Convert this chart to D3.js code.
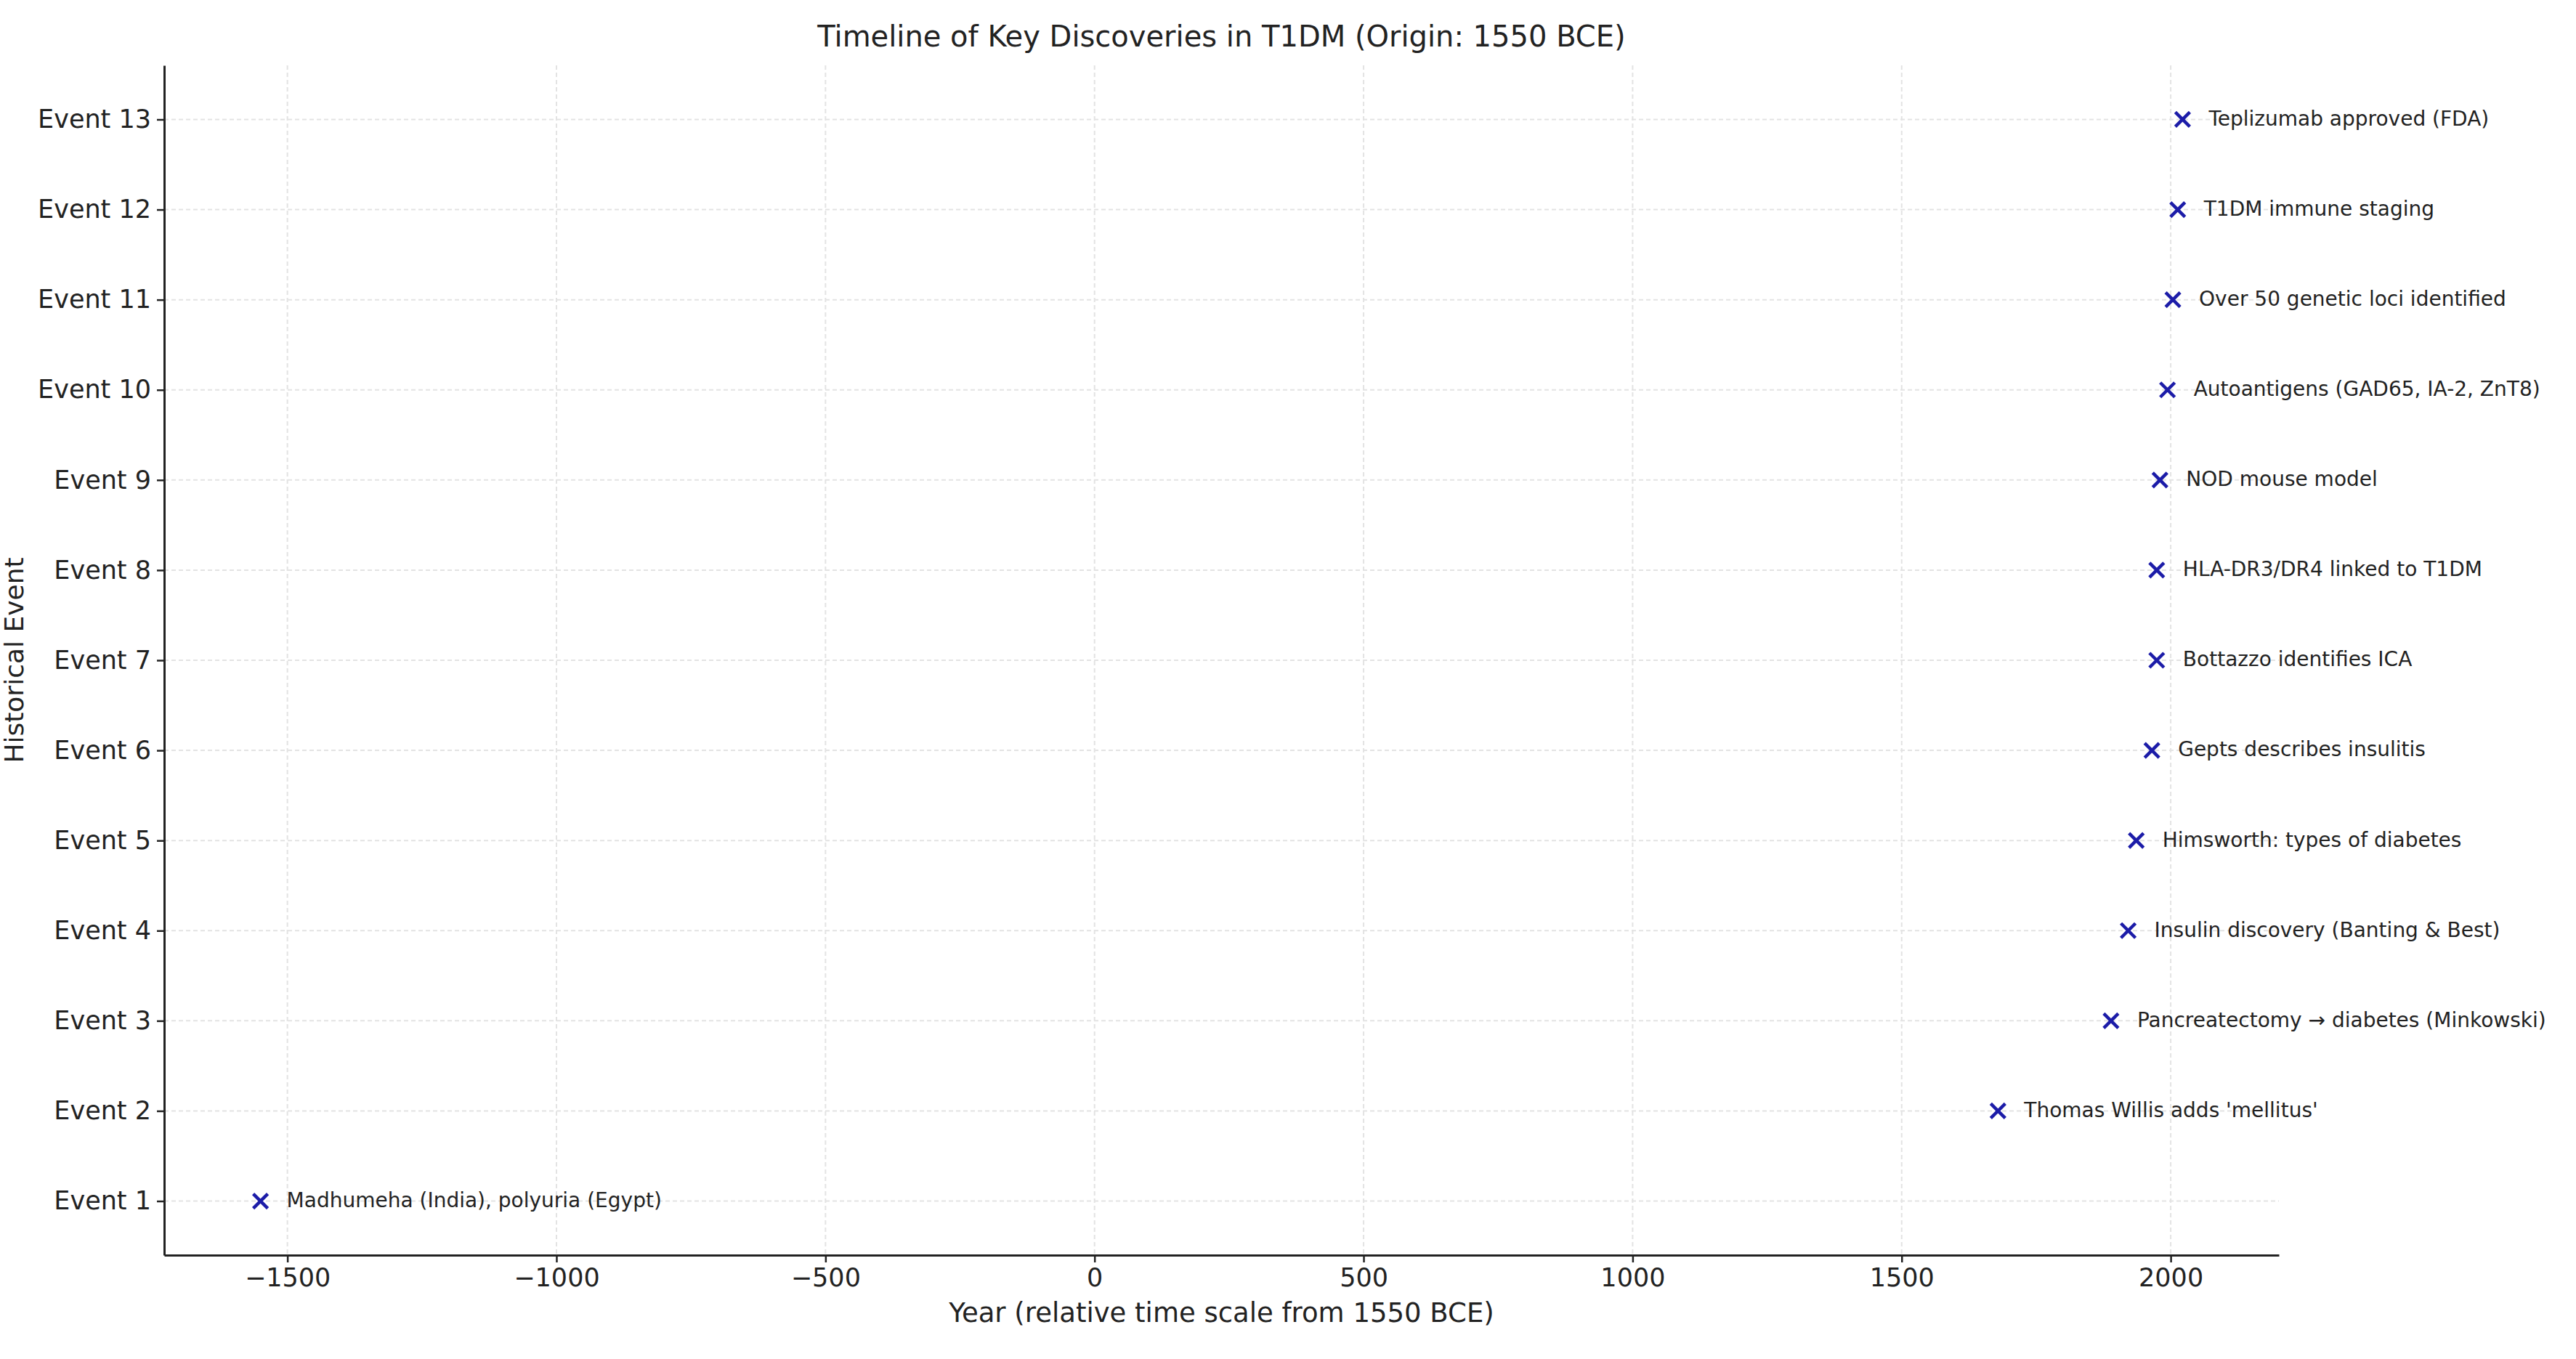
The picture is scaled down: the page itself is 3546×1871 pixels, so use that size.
<!DOCTYPE html>
<html>
<head>
<meta charset="utf-8">
<script src="https://cdn.jsdelivr.net/npm/d3@7"></script>
<style>
  body { margin: 0; background: #fff; }
  text { font-family: "DejaVu Sans", sans-serif; fill: #222; }
</style>
</head>
<body>
<div class="chart"></div>
<script>
var svgWidth = 3546;
var svgHeight = 1871;

// Data
var eventLabels = ["Event 1", "Event 2", "Event 3", "Event 4", "Event 5", "Event 6", "Event 7",
  "Event 8", "Event 9", "Event 10", "Event 11", "Event 12", "Event 13"];
var years = [-1550, 1679, 1889, 1921, 1936, 1965, 1974, 1974, 1980, 1994, 2004, 2013, 2022];
var descriptions = [
  "Madhumeha (India), polyuria (Egypt)",
  "Thomas Willis adds 'mellitus'",
  "Pancreatectomy \u2192 diabetes (Minkowski)",
  "Insulin discovery (Banting & Best)",
  "Himsworth: types of diabetes",
  "Gepts describes insulitis",
  "Bottazzo identifies ICA",
  "HLA-DR3/DR4 linked to T1DM",
  "NOD mouse model",
  "Autoantigens (GAD65, IA-2, ZnT8)",
  "Over 50 genetic loci identified",
  "T1DM immune staging",
  "Teplizumab approved (FDA)"
];
var xTicks = [-1500, -1000, -500, 0, 500, 1000, 1500, 2000];

var margin = { top: 90, right: 409, bottom: 143, left: 226 };
var width = svgWidth - margin.left - margin.right;
var height = svgHeight - margin.top - margin.bottom;

var svg = d3.select(".chart")
  .append("svg")
  .attr("width", svgWidth)
  .attr("height", svgHeight);

var chartGroup = svg.append("g")
  .attr("transform", `translate(${margin.left}, ${margin.top})`);

// Scales
var xScale = d3.scaleLinear().domain([-1729, 2201]).range([0, width]);
var yScale = d3.scaleLinear().domain([0.4, 13.6]).range([height, 0]);
var yIdx = eventLabels.map((d, i) => i + 1);

// Grid
chartGroup.append("g").selectAll("line")
  .data(xTicks).enter().append("line")
  .attr("x1", d => xScale(d)).attr("x2", d => xScale(d))
  .attr("y1", 0).attr("y2", height)
  .attr("stroke", "#e3e3e3").attr("stroke-width", 2).attr("stroke-dasharray", "6,4");
chartGroup.append("g").selectAll("line")
  .data(yIdx).enter().append("line")
  .attr("x1", 0).attr("x2", width)
  .attr("y1", d => yScale(d)).attr("y2", d => yScale(d))
  .attr("stroke", "#e3e3e3").attr("stroke-width", 2).attr("stroke-dasharray", "6,4");

// Axes
var bottomAxis = d3.axisBottom(xScale).tickValues(xTicks).tickSizeInner(10).tickSizeOuter(0).tickPadding(8)
  .tickFormat(d => d < 0 ? "\u2212" + Math.abs(d) : d);
var leftAxis = d3.axisLeft(yScale).tickValues(yIdx).tickSizeInner(10).tickSizeOuter(0).tickPadding(8)
  .tickFormat(d => eventLabels[d - 1]);

var xg = chartGroup.append("g").attr("transform", `translate(0, ${height})`).call(bottomAxis);
var yg = chartGroup.append("g").call(leftAxis);
[xg, yg].forEach(function(g) {
  g.select(".domain").attr("stroke", "#222").attr("stroke-width", 3);
  g.selectAll(".tick line").attr("stroke", "#222").attr("stroke-width", 2.5);
  g.selectAll(".tick text").style("font-size", "35px").attr("fill", "#222");
});

// Markers
var s = 10;
chartGroup.append("g").selectAll("path")
  .data(years).enter().append("path")
  .attr("transform", (d, i) => `translate(${xScale(d)}, ${yScale(i + 1)})`)
  .attr("d", `M${-s},${-s}L${s},${s}M${-s},${s}L${s},${-s}`)
  .attr("stroke", "#1c1ca8").attr("stroke-width", 4.5).attr("fill", "none");

// Annotations
chartGroup.append("g").selectAll("text")
  .data(years).enter().append("text")
  .attr("x", d => xScale(d) + 36)
  .attr("y", (d, i) => yScale(i + 1))
  .attr("dy", "0.3em")
  .style("font-size", "28px")
  .text((d, i) => descriptions[i]);

// Labels
svg.append("text")
  .attr("x", margin.left + width / 2).attr("y", 64)
  .attr("text-anchor", "middle").style("font-size", "40px")
  .text("Timeline of Key Discoveries in T1DM (Origin: 1550 BCE)");

svg.append("text")
  .attr("x", margin.left + width / 2).attr("y", 1820)
  .attr("text-anchor", "middle").style("font-size", "37px")
  .text("Year (relative time scale from 1550 BCE)");

svg.append("text")
  .attr("transform", `translate(32, ${margin.top + height / 2}) rotate(-90)`)
  .attr("text-anchor", "middle").style("font-size", "36px")
  .text("Historical Event");
</script>
</body>
</html>
